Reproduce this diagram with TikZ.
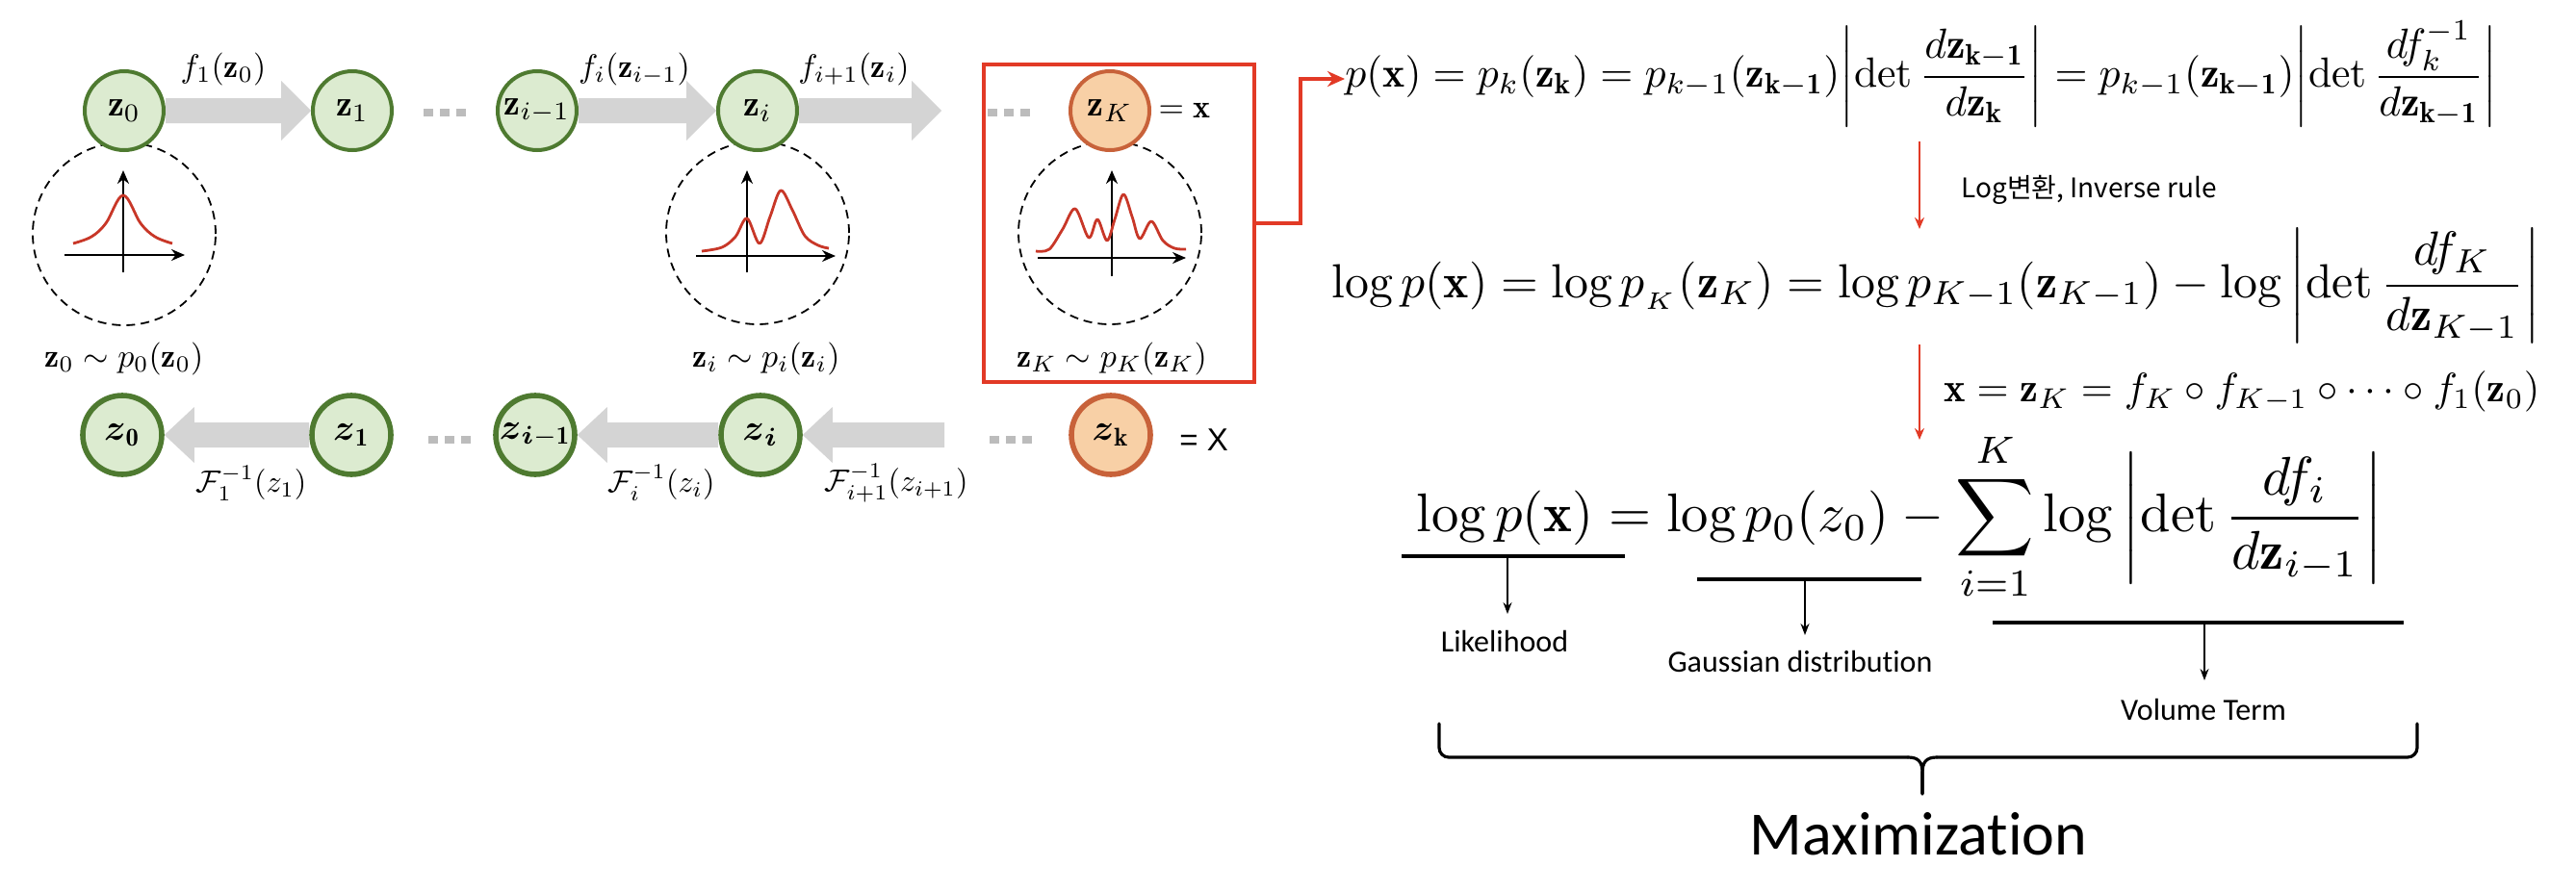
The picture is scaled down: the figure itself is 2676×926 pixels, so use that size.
\documentclass[tikz,border=0pt]{standalone}
\usepackage{amsmath}
\usepackage{graphicx}
\usepackage{fontspec}
\newfontfamily\carl[RawFeature=-liga]{Carlito}
\newfontfamily\krfont{Noto Sans CJK KR}
\newfontfamily\arialf{Liberation Sans}
\usetikzlibrary{arrows.meta,calc}
\definecolor{gfill}{RGB}{220,235,208}
\definecolor{gdraw}{RGB}{78,122,48}
\definecolor{ofill}{RGB}{248,208,166}
\definecolor{odraw}{RGB}{200,98,58}
\definecolor{boxred}{RGB}{226,58,38}
\definecolor{curvered}{RGB}{200,55,40}
\definecolor{arrowgray}{RGB}{212,212,212}
\definecolor{dotgray}{RGB}{188,188,188}
\newcommand\grayarrR[2]{\fill[arrowgray] ([yshift=6.5pt]#1) -- ([xshift=-15.5pt,yshift=6.5pt]#2) -- ([xshift=-15.5pt,yshift=15.5pt]#2) -- (#2) -- ([xshift=-15.5pt,yshift=-15.5pt]#2) -- ([xshift=-15.5pt,yshift=-6.5pt]#2) -- ([yshift=-6.5pt]#1) -- cycle;}
\newcommand\grayarrL[2]{\fill[arrowgray] ([yshift=6.5pt]#1) -- ([xshift=15.5pt,yshift=6.5pt]#2) -- ([xshift=15.5pt,yshift=14.5pt]#2) -- (#2) -- ([xshift=15.5pt,yshift=-14.5pt]#2) -- ([xshift=15.5pt,yshift=-6.5pt]#2) -- ([yshift=-6.5pt]#1) -- cycle;}
\newcommand\absdet[2]{{\left|\det\frac{#1}{#2}\right|}}
\begin{document}
\begin{tikzpicture}[x=0.5pt,y=-0.5pt,
  gnode/.style={circle,minimum size=41pt,inner sep=0pt,draw=gdraw,fill=gfill,line width=2pt},
  gnodeb/.style={gnode,line width=2.8pt},
  onode/.style={circle,minimum size=41pt,inner sep=0pt,draw=odraw,fill=ofill,line width=2pt},
  onodeb/.style={onode,line width=2.8pt},
  nlab/.style={scale=1.9},
  mlab/.style={inner sep=0pt,scale=1.7},
  flab/.style={inner sep=0pt,scale=1.6},
  dcirc/.style={line width=0.9pt,dash pattern=on 4.5pt off 3pt},
  axis/.style={line width=1.1pt,-{Stealth[length=7pt,width=6pt]}},
  curve/.style={curvered,line width=1.4pt,line join=round},
  dots/.style={dotgray,line width=4pt,dash pattern=on 5pt off 3.5pt},
  redarr/.style={boxred,line width=1pt,-{Stealth[length=6pt,width=5pt]}},
  bkarr/.style={black,line width=0.6pt,-{Stealth[length=6pt,width=4.5pt]}},
  uline/.style={black,line width=2pt},
  bracel/.style={black,line width=1.6pt,line cap=round},
  sanslab/.style={inner sep=0pt,font=\carl\fontsize{16}{19}\selectfont}
  ]
\useasboundingbox (0,0) rectangle (2676,926);
\fill[white] (0,0) rectangle (2676,926);

% dashed circles
\draw[dcirc] (129,243) circle [radius=47.5pt];
\draw[dcirc] (787,242) circle [radius=47.5pt];
\draw[dcirc] (1153,242) circle [radius=47.5pt];

% plots
\draw[axis] (67,265) -- (192,265);
\draw[axis] (128,283) -- (128,177);
\draw[curve] plot[smooth,tension=0.6] coordinates {(76,253) (95,246) (110,232) (128,203) (146,232) (161,246) (179,253)};

\draw[axis] (723,266) -- (868,266);
\draw[axis] (776,283) -- (776,177);
\draw[curve] plot[smooth,tension=0.55] coordinates {(729,261) (750,257) (764,246) (776,227) (789,253) (800,225) (811,198) (823,218) (836,245) (850,255) (861,258)};

\draw[axis] (1078,268) -- (1232,268);
\draw[axis] (1155,287) -- (1155,177);
\draw[curve] plot[smooth,tension=0.55] coordinates {(1076,261) (1090,259) (1104,238) (1117,217) (1131,247) (1140,228) (1150,250) (1158,228) (1167,202) (1176,225) (1184,248) (1196,230) (1208,250) (1220,258) (1232,259)};

% top row nodes
\node[gnode] (t0) at (129,115) {};
\node[nlab] at (t0) {$\mathbf{z}_0$};
\node[gnode] (t1) at (366,115) {};
\node[nlab] at (t1) {$\mathbf{z}_1$};
\node[gnode] (ti1) at (558,115) {};
\node[nlab] at (ti1) {$\mathbf{z}_{i-1}$};
\node[gnode] (ti) at (787,115) {};
\node[nlab] at (ti) {$\mathbf{z}_i$};
\node[onode] (tK) at (1153,115) {};
\node[nlab] at (tK) {$\mathbf{z}_K$};
\node[mlab,anchor=west] (tx) at (1203,115) {$=\mathbf{x}$};

\coordinate (tend) at (978,115);
\grayarrR{t0.east}{t1.west}
\grayarrR{ti1.east}{ti.west}
\grayarrR{ti.east}{tend}

\draw[dots] (440,117) -- (484,117);
\draw[dots] (1026,117) -- (1070,117);

\node[mlab] (lf1) at (232,72) {$f_1(\mathbf{z}_0)$};
\node[mlab] (lfi) at (659,72) {$f_i(\mathbf{z}_{i-1})$};
\node[mlab] (lfi1) at (887,72) {$f_{i+1}(\mathbf{z}_i)$};

\node[mlab] (d0) at (129,373) {$\mathbf{z}_0\sim p_0(\mathbf{z}_0)$};
\node[mlab] (di) at (796,373) {$\mathbf{z}_i\sim p_i(\mathbf{z}_i)$};
\node[mlab] (dK) at (1155,373) {$\mathbf{z}_K\sim p_K(\mathbf{z}_K)$};

% red box
\node[draw=boxred,line width=2pt,minimum width=140.5pt,minimum height=165pt,inner sep=0pt] (box) at (1162.5,232) {};

% bottom row
\node[gnodeb] (b0) at (127,452) {};
\node[nlab] at (b0) {$\boldsymbol{z}_{\mathbf{0}}$};
\node[gnodeb] (b1) at (365,452) {};
\node[nlab] at (b1) {$\boldsymbol{z}_{\mathbf{1}}$};
\node[gnodeb] (bi1) at (556,452) {};
\node[nlab] at (bi1) {$\boldsymbol{z}_{\boldsymbol{i}\mathbf{-1}}$};
\node[gnodeb] (bi) at (790,452) {};
\node[nlab] at (bi) {$\boldsymbol{z}_{\boldsymbol{i}}$};
\node[onodeb] (bk) at (1154,452) {};
\node[nlab] at (bk) {$\boldsymbol{z}_{\mathbf{k}}$};
\node[inner sep=0pt,anchor=west,font=\arialf\fontsize{16.5}{19}\selectfont] (bx) at (1225,457) {= X};

\coordinate (bstart) at (981,452);
\grayarrL{b1.west}{b0.east}
\grayarrL{bi.west}{bi1.east}
\grayarrL{bstart}{bi.east}

\draw[dots] (445,457) -- (489,457);
\draw[dots] (1028,457) -- (1072,457);

\node[flab] (F1) at (261,502) {$\mathcal{F}_1^{-1}(z_1)$};
\node[flab] (Fi) at (687,502) {$\mathcal{F}_i^{-1}(z_i)$};
\node[flab] (Fi1) at (931,502) {$\mathcal{F}_{i+1}^{-1}(z_{i+1})$};

% equations
\node[anchor=west,inner sep=0pt] (eq1) at (1397,77) {\resizebox{598.5pt}{!}{$\displaystyle p(\mathbf{x}) = p_k(\mathbf{z_k}) = p_{k-1}(\mathbf{z_{k-1}})\absdet{d\mathbf{z_{k-1}}}{d\mathbf{z_k}} = p_{k-1}(\mathbf{z_{k-1}})\absdet{df_k^{-1}}{d\mathbf{z_{k-1}}}$}};

\node[anchor=west,inner sep=0pt] (eq2) at (1383,297) {\resizebox{627.5pt}{!}{$\displaystyle \log p(\mathbf{x}) = \log p_{_K}(\mathbf{z}_K) = \log p_{K-1}(\mathbf{z}_{K-1}) - \log\absdet{df_K}{d\mathbf{z}_{K-1}}$}};

\node[anchor=west,inner sep=0pt] (eqx) at (2019,407) {\resizebox{309.5pt}{!}{$\mathbf{x} = \mathbf{z}_K = f_K \circ f_{K-1}\circ\cdots\circ f_1(\mathbf{z}_0)$}};

\node[anchor=west,inner sep=0pt] (eq3) at (1471,537) {\resizebox{502pt}{!}{$\displaystyle \log p(\mathbf{x}) = \log p_0(z_0) - \sum_{i=1}^{K}\log\absdet{df_i}{d\mathbf{z}_{i-1}}$}};

% red connectors
\draw[boxred,line width=2pt,-{Stealth[length=9pt,width=8pt]}] (box.east) -- ++(46,0) |- ([yshift=-2.5pt]eq1.west);

\coordinate (a1s) at (1994,147);
\coordinate (a1e) at (1994,238);
\coordinate (a2s) at (1994,358);
\coordinate (a2e) at (1994,457);
\draw[redarr] (a1s) -- (a1e);
\draw[redarr] (a2s) -- (a2e);
\node[anchor=base west,inner sep=0pt,font=\krfont\fontsize{14}{17}\selectfont] (lg) at (2037,205) {Log변환, Inverse rule};

% underlines and labels
\draw[uline] (1456,578) -- (1688,578);
\draw[uline] (1763,602) -- (1996,602);
\draw[uline] (2070,647) -- (2497,647);
\coordinate (u1s) at (1566,578);
\coordinate (u1e) at (1566,638);
\coordinate (u2s) at (1875,602);
\coordinate (u2e) at (1875,660);
\coordinate (u3s) at (2290,647);
\coordinate (u3e) at (2290,707);
\draw[bkarr] (u1s) -- (u1e);
\draw[bkarr] (u2s) -- (u2e);
\draw[bkarr] (u3s) -- (u3e);
\node[sanslab,anchor=base] (lik) at (1563,677) {Likelihood};
\node[sanslab,anchor=base] (gau) at (1870,698) {Gaussian distribution};
\node[sanslab,anchor=base] (vol) at (2289,748) {Volume Term};

% brace
\coordinate (brL) at (1495,752);
\coordinate (brR) at (2511,752);
\coordinate (brT) at (1997,825);
\draw[bracel,rounded corners=5pt] (brL) -- (1495,787) -- (1982,787);
\draw[bracel] (1982,787) .. controls (1993,787) and (1997,792) .. (1997,803) -- (brT);
\draw[bracel] (brT) -- (1997,803) .. controls (1997,792) and (2001,787) .. (2012,787);
\draw[bracel,rounded corners=5pt] (2012,787) -- (2511,787) -- (brR);
\node[anchor=base,inner sep=0pt,font=\carl\fontsize{32}{38}\selectfont] (maxi) at (1993,888) {Maximization};
\end{tikzpicture}
\end{document}
